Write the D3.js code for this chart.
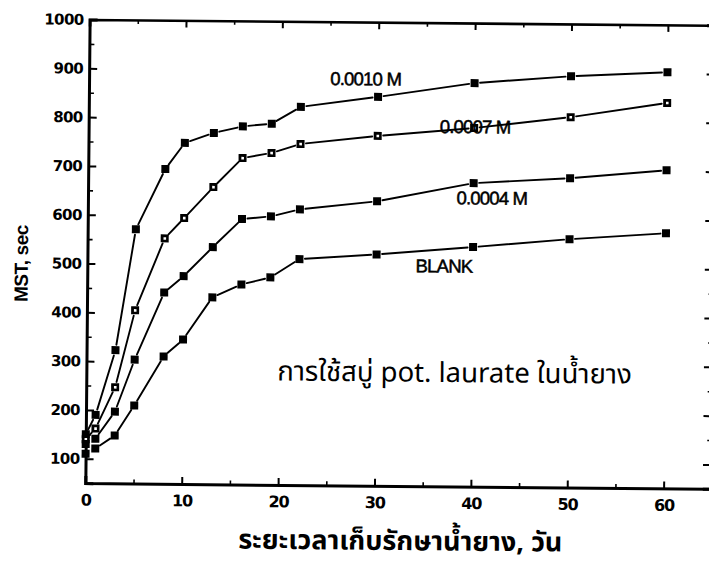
<!DOCTYPE html>
<html>
<head>
<meta charset="utf-8">
<script src="https://cdn.jsdelivr.net/npm/d3@7"></script>
<style>
  html, body { margin: 0; padding: 0; background: #fff; }
  svg { display: block; }
</style>
</head>
<body>
<svg id="chart" width="709" height="566"></svg>
<script>
// Storage time of the latex (days)
const days = [0, 1, 3, 5, 8, 10, 13, 16, 19, 22, 30, 40, 50, 60];

// Mechanical stability time (sec) for each soap concentration
const mst0010 = [150, 190, 323, 571, 695, 749, 770, 784, 790, 825, 847, 877, 893, 903];
const mst0007 = [140, 162, 247, 405, 553, 595, 659, 719, 730, 749, 767, 785, 809, 840];
const mst0004 = [130, 141, 197, 304, 442, 476, 536, 594, 600, 615, 633, 672, 684, 702];
const mstBlank = [110, 121, 148, 210, 311, 346, 433, 460, 475, 513, 524, 541, 559, 573];

const seriesNames = ["0.0010 M", "0.0007 M", "0.0004 M", "BLANK"];
const seriesValues = [mst0010, mst0007, mst0004, mstBlank];
const hollowSeries = ["0.0007 M"];

const xTickValues = [0, 10, 20, 30, 40, 50, 60];
const yTickValues = [100, 200, 300, 400, 500, 600, 700, 800, 900, 1000];

const xTitle = "ระยะเวลาเก็บรักษาน้ำยาง, วัน";
const yTitle = "MST, sec";
const note = "การใช้สบู่ pot. laurate ในน้ำยาง";

// where each series name sits, in [day, MST] units
const seriesLabelAt = [[28.7, 884], [40.1, 788], [41.9, 642], [37.0, 502]];
const noteAt = [38.2, 264];

const svg = d3.select("#chart");
svg.append("rect").attr("width", 709).attr("height", 566).attr("fill", "#fff");

// the whole plot is printed slightly tilted
const g = svg.append("g").attr("transform", "rotate(0.53 400 250)");

const x = d3.scaleLinear().domain([0, 65]).range([87.5, 714]);
const y = d3.scaleLinear().domain([50, 1000]).range([486, 22.4]);

const thaiFont = "'Noto Sans Thai', 'Noto Sans Thai Looped', Loma, Garuda, Norasi, 'Tlwg Typo', 'DejaVu Sans', sans-serif";
const numFont = "'DejaVu Sans', sans-serif";

function styleAxis(sel, width) {
  sel.select(".domain").attr("stroke", "#000").attr("stroke-width", width);
  sel.selectAll(".tick line").attr("stroke", "#000").attr("stroke-width", 2);
}
function styleMinor(sel) {
  sel.select(".domain").remove();
  sel.selectAll("line").attr("stroke", "#000").attr("stroke-width", 1.6);
}

// minor ticks (every 5 days / every 50 sec)
const xMinor = d3.range(5, 65, 10);
const yMinor = d3.range(150, 1000, 100);

// bottom axis
const axisB = g.append("g").attr("transform", `translate(0,${y(50)})`)
  .call(d3.axisBottom(x).tickValues(xTickValues).tickSize(-7).tickPadding(11).tickFormat(d3.format("d")));
styleAxis(axisB, 3);
axisB.selectAll("text").attr("font-family", numFont).attr("font-weight", "bold")
  .attr("font-size", 16).attr("letter-spacing", -1.2).attr("fill", "#000");
g.append("g").attr("transform", `translate(0,${y(50)})`)
  .call(d3.axisBottom(x).tickValues(xMinor).tickSize(-4).tickFormat(""))
  .call(styleMinor);

// top axis
const axisT = g.append("g").attr("transform", `translate(0,${y(1000)})`)
  .call(d3.axisTop(x).tickValues(xTickValues).tickSize(-7).tickFormat(""));
styleAxis(axisT, 2.6);
g.append("g").attr("transform", `translate(0,${y(1000)})`)
  .call(d3.axisTop(x).tickValues(xMinor).tickSize(-4).tickFormat(""))
  .call(styleMinor);

// left axis
const axisL = g.append("g").attr("transform", `translate(${x(0)},0)`)
  .call(d3.axisLeft(y).tickValues(yTickValues).tickSize(-8).tickPadding(6).tickFormat(d3.format("d")));
styleAxis(axisL, 3);
axisL.selectAll("text").attr("font-family", numFont).attr("font-weight", "bold")
  .attr("font-size", 15).attr("letter-spacing", -0.6).attr("fill", "#000");
g.append("g").attr("transform", `translate(${x(0)},0)`)
  .call(d3.axisLeft(y).tickValues(yMinor).tickSize(-5).tickFormat(""))
  .call(styleMinor);

// right axis
const axisR = g.append("g").attr("transform", `translate(${x(65)},0)`)
  .call(d3.axisRight(y).tickValues(yTickValues).tickSize(-9).tickFormat(""));
styleAxis(axisR, 3);
g.append("g").attr("transform", `translate(${x(65)},0)`)
  .call(d3.axisRight(y).tickValues(yMinor).tickSize(-5).tickFormat(""))
  .call(styleMinor);

// curves: straight segments that stop just short of each marker
const gap = 5.5;
seriesValues.forEach((vals, si) => {
  const pts = days.map((d, i) => [x(d), y(vals[i])]);
  const segs = d3.pairs(pts).map(([a, b]) => {
    const dx = b[0] - a[0], dy = b[1] - a[1];
    const len = Math.hypot(dx, dy);
    if (len <= 2 * gap + 1) return null;
    const ux = dx / len, uy = dy / len;
    return [a[0] + ux * gap, a[1] + uy * gap, b[0] - ux * gap, b[1] - uy * gap];
  }).filter(Boolean);
  g.append("g").selectAll("line").data(segs).join("line")
    .attr("x1", s => s[0]).attr("y1", s => s[1])
    .attr("x2", s => s[2]).attr("y2", s => s[3])
    .attr("stroke", "#000").attr("stroke-width", 1.9).attr("stroke-linecap", "round");

  const hollow = hollowSeries.includes(seriesNames[si]);
  const mk = g.append("g").selectAll("g").data(days.map((d, i) => ({ d, v: vals[i] }))).join("g");
  mk.append("rect")
    .attr("x", p => x(p.d) - 4).attr("y", p => y(p.v) - 4)
    .attr("width", 8).attr("height", 8).attr("fill", "#000");
  if (hollow) {
    mk.append("rect")
      .attr("x", p => x(p.d) - 1.2).attr("y", p => y(p.v) - 1.2)
      .attr("width", 2.6).attr("height", 2.6).attr("fill", "#fff");
  }
});

// series names
g.append("g").selectAll("text").data(seriesNames).join("text")
  .attr("x", (n, i) => x(seriesLabelAt[i][0]))
  .attr("y", (n, i) => y(seriesLabelAt[i][1]))
  .attr("dy", "0.36em")
  .attr("text-anchor", "middle")
  .attr("font-family", "'Liberation Sans', Arial, sans-serif")
  .attr("font-size", 18.5).attr("letter-spacing", -0.8)
  .attr("fill", "#000").attr("stroke", "#000").attr("stroke-width", 0.5)
  .text(n => n);

// note inside the plot
g.append("text")
  .attr("x", x(noteAt[0])).attr("y", y(noteAt[1]))
  .attr("text-anchor", "middle")
  .attr("font-family", thaiFont).attr("font-size", 27.5).attr("fill", "#000")
  .text(note);

// axis titles
g.append("text")
  .attr("x", 403).attr("y", 550)
  .attr("text-anchor", "middle")
  .attr("font-family", thaiFont).attr("font-weight", "bold")
  .attr("font-size", 27).attr("fill", "#000")
  .text(xTitle);

g.append("text")
  .attr("transform", "translate(28,267) rotate(-90)")
  .attr("text-anchor", "middle")
  .attr("font-family", "'Liberation Sans', Arial, sans-serif").attr("font-weight", "bold")
  .attr("font-size", 19).attr("letter-spacing", -0.4).attr("fill", "#000")
  .text(yTitle);
</script>
</body>
</html>
